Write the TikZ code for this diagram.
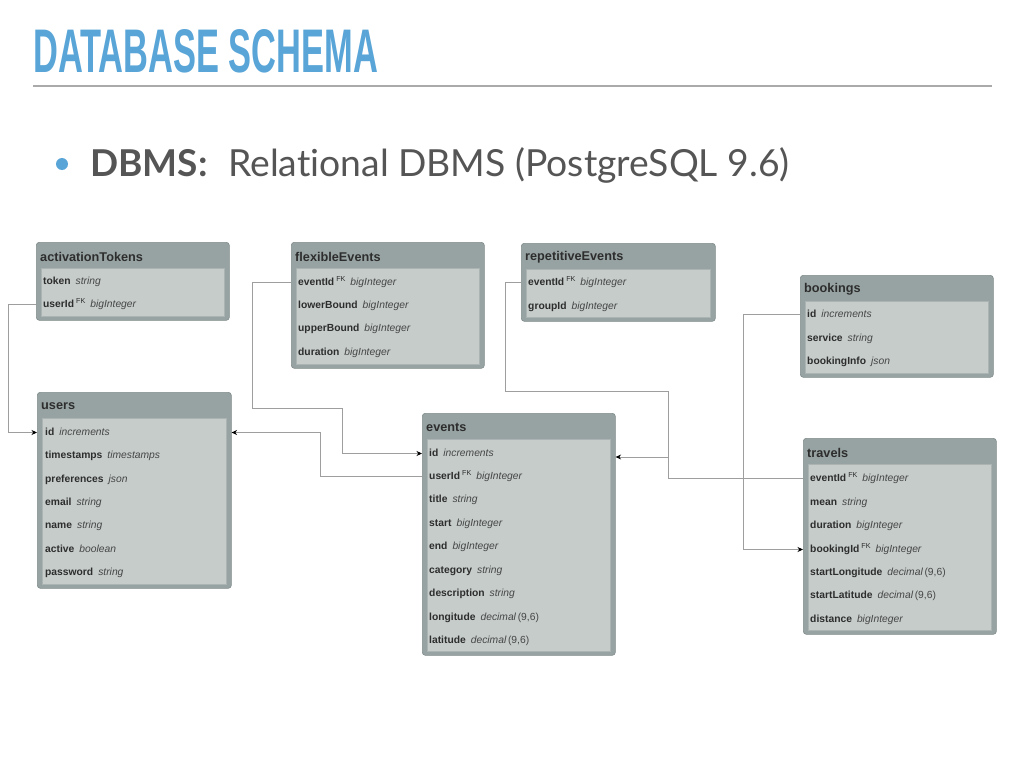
\documentclass[tikz,border=0pt]{standalone}
\usepackage{fontspec}
\setmainfont{Liberation Sans}
\newfontfamily\latofont{Lato}[Ligatures={NoCommon}]
\newfontfamily\headfont{Liberation Sans}
\usetikzlibrary{arrows.meta,calc}
\definecolor{titleblue}{RGB}{89,165,216}
\definecolor{rulec}{RGB}{170,170,170}
\definecolor{subtext}{RGB}{85,85,85}
\definecolor{tabout}{RGB}{151,163,162}
\definecolor{taboutline}{RGB}{128,140,139}
\definecolor{tabin}{RGB}{197,204,202}
\definecolor{tabinline}{RGB}{172,180,179}
\definecolor{tabtext}{RGB}{45,45,45}
\definecolor{typec}{RGB}{70,70,70}
\definecolor{connc}{RGB}{158,158,158}
\newcommand{\fn}[1]{\textbf{#1}}
\newcommand{\fkm}{\hspace{2pt}{\fontsize{7.2}{8}\selectfont\raisebox{3.7pt}{FK}}}
\newcommand{\ty}[1]{\hspace{5pt}{\color{typec}\itshape #1}}
\newcommand{\dec}{\ty{decimal}{\color{typec}\,(9,6)}}
\newcommand{\dbtable}[6]{%
  \node[tabouter, minimum width={#4*1pt}, minimum height={#5*1pt}, anchor=north west] (#1) at (#2,#3) {};
  \node[tabinner, minimum width={(#4-10)*1pt}, minimum height={(#5-30)*1pt}, anchor=north west] (#1-in) at ($(#2,#3)+(5,26)$) {};
  \node[tabtitle, anchor=west] (#1-t) at ($(#2,#3)+(4,14.5)$) {#6};
}
\newcommand{\dbrow}[4]{\node[dbrowtext] (#1) at (#2,#3+1.5) {#4};}
\begin{document}
\begin{tikzpicture}[x=1pt,y=-1pt,
  tabouter/.style={draw=taboutline, fill=tabout, rounded corners=3pt, line width=0.6pt, inner sep=0pt},
  tabinner/.style={draw=tabinline, fill=tabin, line width=0.6pt, inner sep=0pt},
  tabtitle/.style={inner sep=0pt, text=tabtext, font=\fontsize{12.7}{14}\selectfont\bfseries},
  dbrowtext/.style={anchor=west, inner sep=0pt, text height=7.3pt, text depth=2.2pt, text=tabtext, font=\fontsize{10.3}{12}\selectfont},
  conn/.style={draw=connc, line width=0.8pt},
  connarrow/.style={conn, -{Stealth[length=5.5pt,width=5pt,black]}}
]
\useasboundingbox (0,0) rectangle (1024,768);
\fill[white] (0,0) rectangle (1024,768);

% heading
\node[anchor=south west, inner sep=0pt, text=titleblue] (title) at (33,73)
  {\resizebox{345pt}{43pt}{\headfont\bfseries DATABASE SCHEMA}};
\draw[rulec, line width=1.5pt] (33,86) -- (992,86);
\fill[titleblue] (62,164) circle (6);
\node[anchor=base west, inner sep=0pt, text=subtext, font=\latofont\fontsize{37}{40}\selectfont\bfseries] (dbms) at (90,176) {DBMS:};
\node[anchor=base west, inner sep=0pt, text=subtext, font=\latofont\fontsize{37.3}{40}\selectfont] (dbmsval) at (228,176) {Relational DBMS (PostgreSQL 9.6)};

% tables
\dbtable{atok}{36}{242}{193}{78}{activationTokens}
\dbrow{at1}{43}{280}{\fn{token}\ty{string}}
\dbrow{at2}{43}{303}{\fn{userId}\fkm\ty{bigInteger}}

\dbtable{flex}{291}{242}{193}{126}{flexibleEvents}
\dbrow{fl1}{298}{281}{\fn{eventId}\fkm\ty{bigInteger}}
\dbrow{fl2}{298}{304}{\fn{lowerBound}\ty{bigInteger}}
\dbrow{fl3}{298}{327}{\fn{upperBound}\ty{bigInteger}}
\dbrow{fl4}{298}{351}{\fn{duration}\ty{bigInteger}}

\dbtable{rep}{521}{243}{194}{78}{repetitiveEvents}
\dbrow{rp1}{528}{281}{\fn{eventId}\fkm\ty{bigInteger}}
\dbrow{rp2}{528}{305}{\fn{groupId}\ty{bigInteger}}

\dbtable{book}{800}{275}{193}{102}{bookings}
\dbrow{bk1}{807}{313}{\fn{id}\ty{increments}}
\dbrow{bk2}{807}{337}{\fn{service}\ty{string}}
\dbrow{bk3}{807}{360}{\fn{bookingInfo}\ty{json}}

\dbtable{users}{37}{392}{194}{196}{users}
\dbrow{us1}{45}{431}{\fn{id}\ty{increments}}
\dbrow{us2}{45}{454}{\fn{timestamps}\ty{timestamps}}
\dbrow{us3}{45}{478}{\fn{preferences}\ty{json}}
\dbrow{us4}{45}{501}{\fn{email}\ty{string}}
\dbrow{us5}{45}{524}{\fn{name}\ty{string}}
\dbrow{us6}{45}{548}{\fn{active}\ty{boolean}}
\dbrow{us7}{45}{571}{\fn{password}\ty{string}}

\dbtable{events}{422}{413}{193}{242}{events}
\dbrow{ev1}{429}{452}{\fn{id}\ty{increments}}
\dbrow{ev2}{429}{475}{\fn{userId}\fkm\ty{bigInteger}}
\dbrow{ev3}{429}{498}{\fn{title}\ty{string}}
\dbrow{ev4}{429}{522}{\fn{start}\ty{bigInteger}}
\dbrow{ev5}{429}{545}{\fn{end}\ty{bigInteger}}
\dbrow{ev6}{429}{569}{\fn{category}\ty{string}}
\dbrow{ev7}{429}{592}{\fn{description}\ty{string}}
\dbrow{ev8}{429}{616}{\fn{longitude}\dec}
\dbrow{ev9}{429}{639}{\fn{latitude}\dec}

\dbtable{travels}{803}{438}{193}{196}{travels}
\dbrow{tr1}{810}{477}{\fn{eventId}\fkm\ty{bigInteger}}
\dbrow{tr2}{810}{501}{\fn{mean}\ty{string}}
\dbrow{tr3}{810}{524}{\fn{duration}\ty{bigInteger}}
\dbrow{tr4}{810}{548}{\fn{bookingId}\fkm\ty{bigInteger}}
\dbrow{tr5}{810}{571}{\fn{startLongitude}\dec}
\dbrow{tr6}{810}{594}{\fn{startLatitude}\dec}
\dbrow{tr7}{810}{618}{\fn{distance}\ty{bigInteger}}

% connectors
\coordinate (b2) at (342,408);
\coordinate (b4) at (668,391);
\coordinate (j4) at (668,457);
\draw[connarrow] (atok.west |- at2) -- ++(-28,0) |- (users.west |- us1);
\draw[connarrow] (flex.west |- fl1) -- ++(-39,0) |- (b2) |- (events.west |- ev1);
\draw[connarrow] (events.west |- ev2) -- ++(-102,0) |- (users.east |- us1);
\draw[connarrow] (rep.west |- rp1) -- ++(-16,0) |- (b4) -- (j4) -- (events.east |- j4);
\draw[conn] (travels.west |- tr1) -| (j4);
\draw[connarrow] (book.west |- bk1) -- ++(-57,0) |- (travels.west |- tr4);
\end{tikzpicture}
\end{document}
